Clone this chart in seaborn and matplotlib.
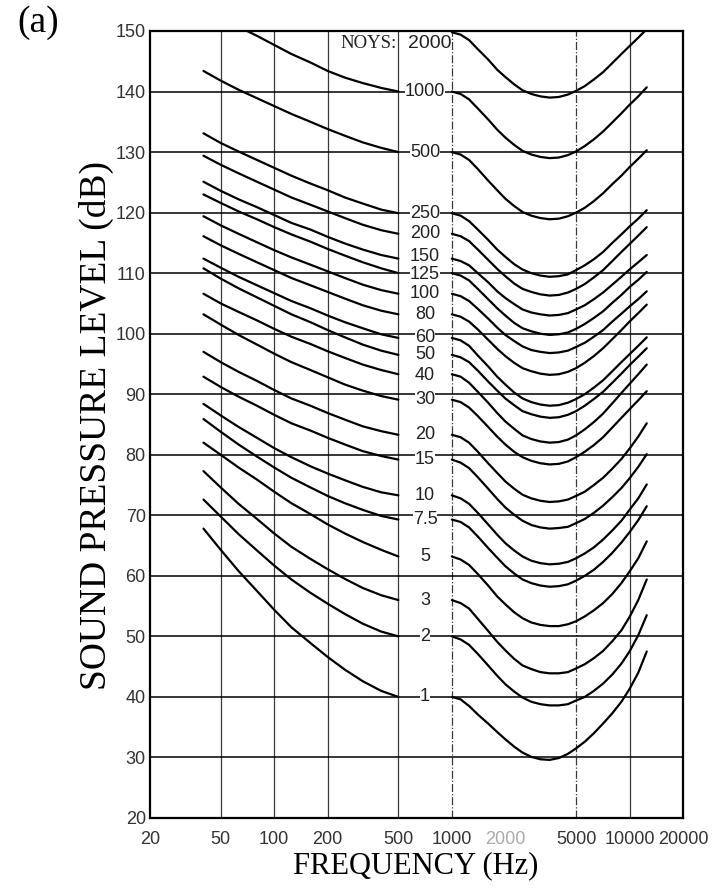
import numpy as np
import pandas as pd
import matplotlib
matplotlib.use("Agg")
import matplotlib.pyplot as plt
import seaborn as sns

# ---------------- data ----------------
LEFT_FREQ = [40, 50, 63, 80, 100, 125, 160, 200, 250, 315, 400, 500]
RIGHT_FREQ = [1000, 1120, 1250, 1400, 1600, 1800, 2000, 2240, 2500, 2800, 3150, 3550,
              4000, 4500, 5000, 5600, 6300, 7100, 8000, 9000, 10000, 11200, 12500]

NOY_LABELS = ["2000", "1000", "500", "250", "200", "150", "125", "100", "80", "60",
              "50", "40", "30", "20", "15", "10", "7.5", "5", "3", "2", "1"]
LABEL_LEVELS = [148.0, 140.0, 130.0, 119.9, 116.5, 112.8, 109.8, 106.6, 103.2, 99.3,
                96.5, 93.1, 89.1, 83.3, 79.2, 73.3, 69.3, 63.2, 56.0, 50.0, 40.0]

LEFT_SPL = {
    "2000": [None] * 12,
    "1000": [None, None, 150.7, 149.2, 147.7, 146.2, 144.8, 143.4, 142.3, 141.4, 140.6, 140.0],
    "500": [143.4, 141.8, 140.3, 138.9, 137.6, 136.3, 135.0, 133.8, 132.7, 131.6, 130.7, 130.0],
    "250": [133.1, 131.5, 130.1, 128.7, 127.4, 126.1, 124.8, 123.7, 122.5, 121.5, 120.5, 119.9],
    "200": [129.4, 127.9, 126.5, 125.1, 123.8, 122.5, 121.3, 120.2, 119.1, 118.0, 117.1, 116.5],
    "150": [125.1, 123.6, 122.2, 120.9, 119.6, 118.3, 117.2, 116.0, 114.9, 113.9, 113.0, 112.4],
    "125": [123.0, 121.6, 120.2, 118.9, 117.6, 116.4, 115.2, 114.0, 112.9, 111.8, 110.8, 110.0],
    "100": [119.4, 117.9, 116.5, 115.1, 113.8, 112.6, 111.4, 110.3, 109.2, 108.1, 107.2, 106.6],
    "80": [116.1, 114.6, 113.2, 111.8, 110.5, 109.2, 108.0, 106.9, 105.8, 104.7, 103.8, 103.2],
    "60": [112.4, 110.9, 109.4, 108.0, 106.7, 105.4, 104.2, 103.0, 101.9, 100.9, 99.9, 99.3],
    "50": [110.8, 109.1, 107.5, 106.0, 104.6, 103.2, 101.9, 100.6, 99.4, 98.2, 97.2, 96.5],
    "40": [106.6, 105.0, 103.6, 102.2, 100.8, 99.5, 98.3, 97.1, 96.0, 94.9, 94.0, 93.3],
    "30": [103.2, 101.5, 99.8, 98.2, 96.7, 95.3, 94.0, 92.8, 91.6, 90.6, 89.7, 89.1],
    "20": [97.0, 95.3, 93.7, 92.2, 90.7, 89.3, 88.1, 86.9, 85.8, 84.7, 83.9, 83.3],
    "15": [92.9, 91.2, 89.6, 88.1, 86.6, 85.2, 84.0, 82.8, 81.7, 80.6, 79.8, 79.2],
    "10": [88.4, 86.5, 84.6, 82.8, 81.1, 79.6, 78.1, 76.9, 75.8, 74.7, 73.8, 73.3],
    "7.5": [85.9, 83.8, 81.7, 79.7, 77.9, 76.2, 74.6, 73.2, 72.0, 70.9, 69.9, 69.3],
    "5": [82.0, 80.0, 77.9, 75.9, 73.9, 72.0, 70.2, 68.5, 67.0, 65.6, 64.3, 63.2],
    "3": [77.3, 74.6, 71.9, 69.4, 67.0, 64.8, 62.8, 61.1, 59.5, 58.0, 56.8, 56.0],
    "2": [72.6, 69.8, 66.9, 64.2, 61.7, 59.4, 57.2, 55.4, 53.7, 52.1, 50.8, 50.0],
    "1": [67.8, 64.3, 60.8, 57.5, 54.4, 51.5, 48.9, 46.6, 44.5, 42.6, 41.0, 40.0],
}

RIGHT_SPL = {
    "2000": [149.8, 149.4, 148.5, 147.0, 145.3, 143.6, 142.4, 141.2, 140.2, 139.6, 139.2, 139.0,
             139.1, 139.5, 140.1, 140.9, 142.0, 143.2, 144.7, 146.2, 147.5, 148.9, 150.3],
    "1000": [140.0, 139.6, 138.7, 137.2, 135.4, 133.7, 132.4, 131.2, 130.2, 129.6, 129.2, 129.0,
             129.1, 129.5, 130.1, 131.0, 132.1, 133.4, 134.9, 136.4, 137.8, 139.2, 140.7],
    "500": [130.0, 129.6, 128.7, 127.2, 125.3, 123.7, 122.3, 121.1, 120.1, 119.5, 119.1, 118.9,
            119.0, 119.4, 120.0, 120.8, 121.9, 123.2, 124.7, 126.1, 127.5, 128.9, 130.3],
    "250": [119.9, 119.5, 118.6, 117.2, 115.5, 113.9, 112.7, 111.5, 110.6, 110.0, 109.6, 109.4,
            109.5, 109.8, 110.5, 111.3, 112.3, 113.5, 115.0, 116.4, 117.7, 119.0, 120.4],
    "200": [116.5, 116.1, 115.3, 113.9, 112.2, 110.7, 109.5, 108.3, 107.4, 106.9, 106.5, 106.3,
            106.4, 106.8, 107.4, 108.2, 109.3, 110.5, 112.0, 113.5, 114.8, 116.2, 117.6],
    "150": [112.4, 112.0, 111.3, 110.0, 108.5, 107.0, 105.9, 104.9, 104.0, 103.5, 103.2, 103.0,
            103.1, 103.4, 104.0, 104.7, 105.7, 106.8, 108.1, 109.4, 110.6, 111.8, 113.0],
    "125": [110.0, 109.6, 108.8, 107.4, 105.7, 104.2, 103.0, 101.8, 100.9, 100.4, 100.0, 99.8,
            99.9, 100.2, 100.8, 101.6, 102.6, 103.7, 105.1, 106.4, 107.7, 108.9, 110.2],
    "100": [106.6, 106.2, 105.4, 104.1, 102.5, 101.0, 99.8, 98.8, 97.9, 97.3, 97.0, 96.8,
            96.9, 97.2, 97.8, 98.5, 99.5, 100.6, 102.0, 103.3, 104.5, 105.7, 107.0],
    "80": [103.2, 102.8, 102.0, 100.7, 99.0, 97.5, 96.3, 95.2, 94.3, 93.8, 93.4, 93.2,
           93.3, 93.7, 94.3, 95.2, 96.3, 97.6, 99.1, 100.6, 102.0, 103.4, 104.8],
    "60": [99.3, 98.9, 98.0, 96.4, 94.6, 92.9, 91.6, 90.3, 89.3, 88.7, 88.3, 88.1,
           88.2, 88.6, 89.2, 90.0, 91.1, 92.3, 93.8, 95.3, 96.6, 98.0, 99.4],
    "50": [96.5, 96.1, 95.3, 93.9, 92.1, 90.6, 89.3, 88.2, 87.2, 86.7, 86.3, 86.1,
           86.2, 86.6, 87.2, 88.1, 89.2, 90.4, 91.9, 93.4, 94.8, 96.2, 97.6],
    "40": [93.3, 92.9, 91.9, 90.4, 88.6, 86.9, 85.5, 84.3, 83.2, 82.6, 82.2, 82.0,
           82.1, 82.5, 83.2, 84.2, 85.4, 86.8, 88.5, 90.2, 91.7, 93.3, 94.9],
    "30": [89.1, 88.7, 87.8, 86.4, 84.6, 83.0, 81.7, 80.5, 79.6, 79.0, 78.6, 78.4,
           78.5, 78.9, 79.6, 80.5, 81.6, 82.9, 84.5, 86.1, 87.5, 89.0, 90.5],
    "20": [83.3, 82.9, 82.0, 80.5, 78.6, 77.0, 75.6, 74.4, 73.4, 72.8, 72.4, 72.2,
           72.3, 72.6, 73.2, 73.9, 75.0, 76.2, 77.7, 79.3, 81.0, 83.0, 85.2],
    "15": [79.2, 78.7, 77.8, 76.3, 74.4, 72.7, 71.3, 70.1, 69.1, 68.4, 68.0, 67.8,
           67.9, 68.1, 68.7, 69.4, 70.4, 71.6, 73.0, 74.5, 76.1, 78.0, 80.1],
    "10": [73.3, 72.8, 71.9, 70.4, 68.5, 66.8, 65.4, 64.2, 63.2, 62.5, 62.1, 61.9,
           62.0, 62.3, 62.9, 63.7, 64.7, 66.0, 67.5, 69.1, 70.9, 72.8, 75.1],
    "7.5": [69.3, 68.9, 68.0, 66.5, 64.6, 63.0, 61.6, 60.4, 59.4, 58.8, 58.4, 58.2,
            58.3, 58.6, 59.2, 60.0, 61.0, 62.3, 63.8, 65.5, 67.2, 69.2, 71.5],
    "5": [63.2, 62.7, 61.8, 60.3, 58.4, 56.6, 55.3, 54.0, 53.0, 52.3, 51.9, 51.7,
          51.7, 52.0, 52.5, 53.3, 54.3, 55.5, 57.0, 58.8, 60.7, 62.9, 65.7],
    "3": [56.0, 55.5, 54.6, 52.9, 50.9, 49.1, 47.7, 46.3, 45.2, 44.6, 44.1, 43.9,
          43.9, 44.1, 44.7, 45.4, 46.4, 47.6, 49.2, 51.0, 53.2, 56.0, 59.4],
    "2": [50.0, 49.5, 48.6, 47.1, 45.2, 43.5, 42.1, 40.9, 39.9, 39.2, 38.8, 38.6,
          38.6, 38.8, 39.4, 40.0, 41.0, 42.2, 43.7, 45.5, 47.5, 50.2, 53.5],
    "1": [40.0, 39.6, 38.5, 37.1, 35.6, 34.2, 33.0, 31.8, 30.8, 30.1, 29.7, 29.6,
          29.9, 30.6, 31.5, 32.6, 34.0, 35.6, 37.3, 39.2, 41.3, 44.0, 47.5],
}

X_TICKS = [20, 50, 100, 200, 500, 1000, 2000, 5000, 10000, 20000]
X_TICK_LABELS = ["20", "50", "100", "200", "500", "1000", "2000", "5000", "10000", "20000"]
Y_TICKS = [20, 30, 40, 50, 60, 70, 80, 90, 100, 110, 120, 130, 140, 150]
V_GRID = [50, 100, 200, 500, 1000, 5000, 10000]
V_GRID_STYLE = ["-", "-", "-", "-", "-.", "-.", "-"]

# ---------------- long table ----------------
rows = []
for name in NOY_LABELS:
    for side, freqs, vals in (("L", LEFT_FREQ, LEFT_SPL[name]), ("R", RIGHT_FREQ, RIGHT_SPL[name])):
        for f, v in zip(freqs, vals):
            if v is not None:
                rows.append({"freq": f, "spl": v, "seg": f"{name}_{side}"})
df = pd.DataFrame(rows)

# ---------------- figure ----------------
sns.set_theme(style="white")
plt.rcParams["font.family"] = ["Liberation Sans", "DejaVu Sans"]
serif = ["Liberation Serif", "DejaVu Serif"]

fig, ax = plt.subplots(figsize=(7.2, 8.9), dpi=100)
fig.subplots_adjust(left=150 / 720, right=683 / 720, bottom=1 - 818 / 890, top=1 - 31 / 890)

ax.set_xscale("log")
ax.set_xlim(20, 20000)
ax.set_ylim(20, 150)

for f, ls in zip(V_GRID, V_GRID_STYLE):
    ax.axvline(f, color="#3a3a3a", lw=0.9, ls=ls, zorder=1)
for lv in Y_TICKS[1:-1]:
    ax.axhline(lv, color="black", lw=1.1, zorder=1)

sns.lineplot(data=df, x="freq", y="spl", units="seg", estimator=None, sort=False,
             color="black", linewidth=1.6, ax=ax, legend=False, zorder=3,
             solid_joinstyle="round", solid_capstyle="round")

# curve labels
xlab = np.sqrt(500 * 1000)
box = dict(facecolor="white", edgecolor="none", pad=0.0)
for name, lv in zip(NOY_LABELS, LABEL_LEVELS):
    if name == "2000":
        ax.text(990, lv, "2000", ha="right", va="center", fontsize=14, color="#222",
                zorder=4, bbox=box)
        ax.text(492, lv, "NOYS:", ha="right", va="center", fontsize=13.5, color="#222",
                family=serif, zorder=4, bbox=box)
    else:
        ax.text(xlab, lv, name, ha="center", va="center", fontsize=13, color="#222",
                zorder=4, bbox=box)

ax.set_xticks(X_TICKS)
ax.set_xticklabels(X_TICK_LABELS)
ax.minorticks_off()
ax.set_yticks(Y_TICKS)
ax.set_yticklabels([str(v) for v in Y_TICKS])
ax.tick_params(axis="both", length=0, labelsize=13, labelcolor="#333")
ax.tick_params(axis="x", pad=9)
ax.tick_params(axis="y", pad=3)
for lbl in ax.get_xticklabels():
    if lbl.get_text() == "2000":
        lbl.set_color("#aaaaaa")

ax.set_xlabel("")
ax.set_ylabel("")
for sp in ax.spines.values():
    sp.set_visible(True)
    sp.set_color("black")
    sp.set_linewidth(1.6)

fig.text(416 / 720, 1 - 866 / 890, "FREQUENCY (Hz)", ha="center", va="center",
         fontsize=22, family=serif, color="black")
fig.text(96 / 720, 1 - 425 / 890, "SOUND PRESSURE LEVEL (dB)", ha="center", va="center",
         rotation=90, fontsize=27, family=serif, color="black")
fig.text(38 / 720, 1 - 23 / 890, "(a)", ha="center", va="center",
         fontsize=27, family=serif, color="black")

fig.savefig("out.png", dpi=100)
